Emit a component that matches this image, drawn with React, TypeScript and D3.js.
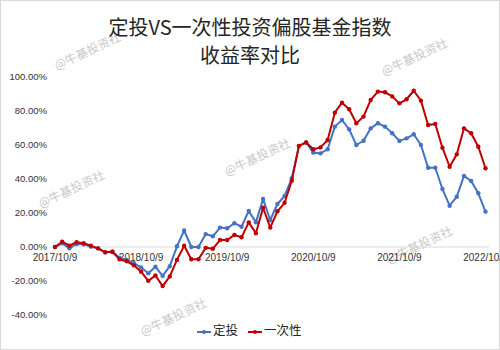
import React from "react";
import * as d3 from "d3";

const categories = [
  "2017/10/9","2017/11/9","2017/12/9","2018/1/9","2018/2/9","2018/3/9","2018/4/9","2018/5/9","2018/6/9","2018/7/9","2018/8/9","2018/9/9",
  "2018/10/9","2018/11/9","2018/12/9","2019/1/9","2019/2/9","2019/3/9","2019/4/9","2019/5/9","2019/6/9","2019/7/9","2019/8/9","2019/9/9",
  "2019/10/9","2019/11/9","2019/12/9","2020/1/9","2020/2/9","2020/3/9","2020/4/9","2020/5/9","2020/6/9","2020/7/9","2020/8/9","2020/9/9",
  "2020/10/9","2020/11/9","2020/12/9","2021/1/9","2021/2/9","2021/3/9","2021/4/9","2021/5/9","2021/6/9","2021/7/9","2021/8/9","2021/9/9",
  "2021/10/9","2021/11/9","2021/12/9","2022/1/9","2022/2/9","2022/3/9","2022/4/9","2022/5/9","2022/6/9","2022/7/9","2022/8/9","2022/9/9",
  "2022/10/9",
];

// 定投 (blue)
const dingtou = [
  0, 2.2, -0.8, 1.8, 1.6, 0.2, -0.8, -3.1, -2.8, -6.4, -7.6, -9.6,
  -12, -15.5, -11.6, -17, -11.3, 0.4, 9.7, 0, 0, 7.6, 6.3, 11.4,
  11, 14, 11.9, 21.2, 14.5, 28.2, 15.9, 25.3, 30, 40.4, 59.5, 61.5,
  55.5, 55.1, 57.5, 70.8, 74.7, 69.2, 60, 62.5, 69.8, 72.8, 70.8, 66.9,
  62.4, 63.9, 66.3, 60, 46.6, 46.6, 34.1, 24.3, 29.6, 41.8, 38.8, 31.6,
  20.8,
];

// 一次性 (red)
const yicixing = [
  0, 3.1, 0.8, 2.8, 2.2, 0.8, -0.8, -3.1, -2.8, -7.3, -8.4, -10.8,
  -14.5, -19.9, -16.8, -23, -17.3, -7.6, 0.7, -7.2, -7.2, -0.5, -1, 4.1,
  4.1, 7.1, 5.7, 14.5, 8.1, 23.1, 11.4, 21, 26, 39, 59.5, 61.5,
  57.5, 58.6, 62.9, 79, 84.9, 81, 72.8, 76.7, 86.5, 91.4, 91, 88.6,
  84.5, 86.9, 91.9, 86.1, 71.8, 72.4, 58.4, 47.2, 54.5, 69.8, 66.9, 59,
  46.3,
];

const yTicks = [-40, -20, 0, 20, 40, 60, 80, 100];
const xTickLabels = ["2017/10/9", "2018/10/9", "2019/10/9", "2020/10/9", "2021/10/9", "2022/10/9"];
const seriesNames = ["定投", "一次性"];
const seriesColors = ["#4472C4", "#C00000"];
const titleLines = ["定投VS一次性投资偏股基金指数", "收益率对比"];
const watermark = "@牛基投资社";
const watermarkSpots = [
  [88, 52], [415, 58], [72, 190], [258, 158], [420, 246], [174, 318],
];

const W = 500;
const H = 350;

export default function App() {
  const x = d3.scalePoint<number>().domain(categories.map((_, i) => i)).range([55, 485.5]);
  const y = d3.scaleLinear().domain([-40, 100]).range([315, 77]);
  const line = d3
    .line<number>()
    .x((_, i) => x(i) as number)
    .y((d) => y(d));
  const series = [dingtou, yicixing];
  const cjk = "'Noto Sans CJK SC', 'Noto Sans', sans-serif";
  const latin = "'Liberation Sans', Arial, sans-serif";

  return (
    <svg
      width={W}
      height={H}
      style={{ position: "absolute", left: 0, top: 0, background: "#fff" }}
    >
      <rect x={0.5} y={0.5} width={W - 1} height={H - 1} fill="#fff" stroke="#d9d9d9" />
      {watermarkSpots.map(([cx, cy], i) => (
        <text
          key={"wm" + i}
          x={cx}
          y={cy}
          transform={`rotate(-25 ${cx} ${cy})`}
          textAnchor="middle"
          dominantBaseline="middle"
          fontFamily={cjk}
          fontSize={12}
          fill="#c9c9c9"
        >
          {watermark}
        </text>
      ))}
      {titleLines.map((t, i) => (
        <text
          key={"t" + i}
          x={250}
          y={30 + i * 28}
          textAnchor="middle"
          dominantBaseline="middle"
          fontFamily={cjk}
          fontSize={20}
          fill="#262626"
        >
          {t}
        </text>
      ))}
      {yTicks.map((v) => (
        <text
          key={"y" + v}
          x={47}
          y={y(v)}
          textAnchor="end"
          dominantBaseline="middle"
          fontFamily={latin}
          fontSize={9.5}
          fill="#333"
        >
          {v.toFixed(2) + "%"}
        </text>
      ))}
      <line x1={52} x2={489} y1={y(0)} y2={y(0)} stroke="#d9d9d9" strokeWidth={1} />
      {xTickLabels.map((lab) => {
        const idx = categories.indexOf(lab);
        return (
          <text
            key={"x" + lab}
            x={x(idx) as number}
            y={258}
            textAnchor="middle"
            dominantBaseline="middle"
            fontFamily={latin}
            fontSize={10}
            fill="#333"
          >
            {lab}
          </text>
        );
      })}
      {series.map((s, si) => (
        <g key={"s" + si}>
          <path d={line(s) || ""} fill="none" stroke={seriesColors[si]} strokeWidth={2} strokeLinejoin="round" />
          {s.map((v, i) => (
            <circle key={i} cx={x(i) as number} cy={y(v)} r={2.2} fill={seriesColors[si]} />
          ))}
        </g>
      ))}
      {seriesNames.map((name, i) => {
        const lx = i === 0 ? 197 : 248;
        return (
          <g key={"l" + i}>
            <line x1={lx} x2={lx + 14} y1={332} y2={332} stroke={seriesColors[i]} strokeWidth={2} />
            <circle cx={lx + 7} cy={332} r={2} fill={seriesColors[i]} />
            <text
              x={lx + 16}
              y={332}
              dominantBaseline="middle"
              fontFamily={cjk}
              fontSize={12.5}
              fill="#262626"
            >
              {name}
            </text>
          </g>
        );
      })}
    </svg>
  );
}
